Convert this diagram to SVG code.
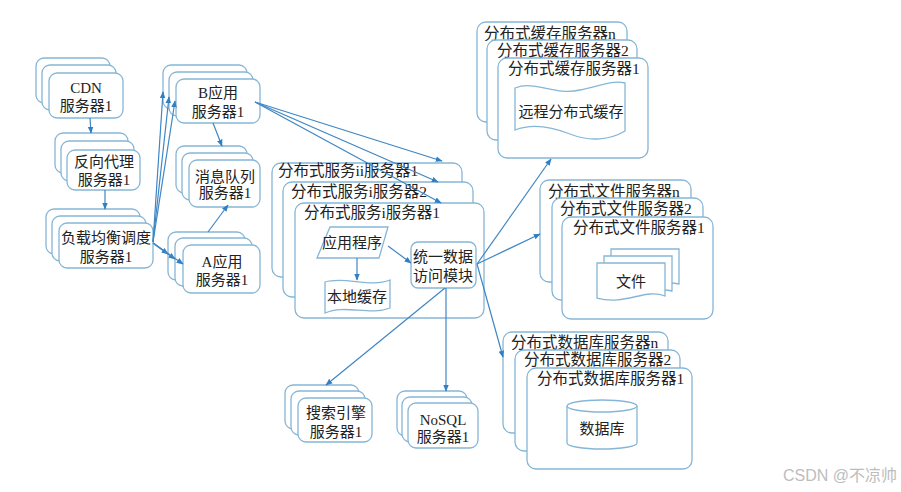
<svg xmlns="http://www.w3.org/2000/svg" width="901" height="492" viewBox="0 0 901 492">
<style>
.b{fill:#fff;stroke:#86b6d6;stroke-width:1.3}
.t{font-family:"Liberation Serif","Noto Sans CJK SC",serif;font-size:15px;fill:#222}
.c{text-anchor:middle}
.l{font-family:"Liberation Serif","Noto Sans CJK SC",serif;font-size:15.5px;fill:#222}
.e{fill:none;stroke:#3f86c4;stroke-width:1.2;marker-end:url(#a)}
</style>
<defs>
<marker id="a" viewBox="0 0 10 10" refX="9" refY="5" markerWidth="7" markerHeight="7" orient="auto" markerUnits="userSpaceOnUse">
<path d="M0,1 L10,5 L0,9 Z" fill="#2f7fc4"/>
</marker>
</defs>
<rect width="901" height="492" fill="#fff"/>

<g id="cdn">
<rect class="b" x="36" y="58" width="74" height="45" rx="8"/>
<rect class="b" x="42" y="65" width="74" height="45" rx="8"/>
<rect class="b" x="49" y="73" width="74" height="45" rx="8"/>
<text class="t c" x="86" y="93">CDN</text>
<text class="t c" x="86" y="111">服务器1</text>
</g>

<g id="proxy">
<rect class="b" x="55" y="133" width="73" height="40" rx="8"/>
<rect class="b" x="61" y="141" width="73" height="40" rx="8"/>
<rect class="b" x="67" y="150" width="73" height="40" rx="8"/>
<text class="t c" x="104" y="167">反向代理</text>
<text class="t c" x="104" y="185">服务器1</text>
</g>

<g id="lb">
<rect class="b" x="46" y="209" width="94" height="45" rx="8"/>
<rect class="b" x="52" y="216" width="94" height="45" rx="8"/>
<rect class="b" x="59" y="223" width="94" height="45" rx="8"/>
<text class="t c" x="106" y="243">负载均衡调度</text>
<text class="t c" x="106" y="262">服务器1</text>
</g>

<g id="appB">
<rect class="b" x="163" y="65" width="84" height="44" rx="8"/>
<rect class="b" x="169" y="72" width="84" height="44" rx="8"/>
<rect class="b" x="176" y="79" width="84" height="44" rx="8"/>
<text class="t c" x="218" y="98">B应用</text>
<text class="t c" x="218" y="117">服务器1</text>
</g>

<g id="mq">
<rect class="b" x="176" y="146" width="71" height="47" rx="8"/>
<rect class="b" x="182" y="153" width="71" height="47" rx="8"/>
<rect class="b" x="189" y="160" width="71" height="47" rx="8"/>
<text class="t c" x="225" y="182">消息队列</text>
<text class="t c" x="225" y="198">服务器1</text>
</g>

<g id="appA">
<rect class="b" x="168" y="232" width="77" height="48" rx="8"/>
<rect class="b" x="175" y="238" width="77" height="48" rx="8"/>
<rect class="b" x="183" y="245" width="77" height="48" rx="8"/>
<text class="t c" x="222" y="267">A应用</text>
<text class="t c" x="222" y="285">服务器1</text>
</g>

<g id="dist">
<rect class="b" x="272" y="163" width="190" height="114" rx="9"/>
<text class="l" x="278" y="176">分布式服务ii服务器1</text>
<rect class="b" x="283" y="182" width="190" height="115" rx="9"/>
<text class="l" x="291" y="197">分布式服务i服务器2</text>
<rect class="b" x="295" y="203" width="189" height="115" rx="9"/>
<text class="l" x="304" y="218">分布式服务i服务器1</text>
<path class="b" d="M330,227 L388,227 L379,258 L317,258 Z"/>
<text class="t c" x="352" y="248">应用程序</text>
<path class="b" d="M325,282 C345,276 370,288 390,280 L390,308 C370,316 345,304 325,313 Z"/>
<text class="t c" x="357" y="302">本地缓存</text>
<rect class="b" x="411" y="242" width="65" height="46" rx="7"/>
<text class="t c" x="443" y="262">统一数据</text>
<text class="t c" x="443" y="281">访问模块</text>
</g>

<g id="cache">
<rect class="b" x="477" y="22" width="150" height="100" rx="9"/>
<text class="l" x="484" y="39">分布式缓存服务器n</text>
<rect class="b" x="487" y="40" width="150" height="100" rx="9"/>
<text class="l" x="497" y="56">分布式缓存服务器2</text>
<rect class="b" x="498" y="58" width="150" height="100" rx="9"/>
<text class="l" x="508" y="74">分布式缓存服务器1</text>
<path class="b" d="M515,88 C535,80 555,96 580,90 C600,86 612,80 625,83 L625,131 C610,140 590,142 570,134 C550,126 530,124 515,130 Z"/>
<text class="t c" x="571" y="117">远程分布式缓存</text>
</g>

<g id="file">
<rect class="b" x="540" y="180" width="151" height="102" rx="9"/>
<text class="l" x="548" y="197">分布式文件服务器n</text>
<rect class="b" x="552" y="198" width="151" height="102" rx="9"/>
<text class="l" x="560" y="214">分布式文件服务器2</text>
<rect class="b" x="562" y="217" width="151" height="102" rx="9"/>
<text class="l" x="573" y="233">分布式文件服务器1</text>
<path class="b" d="M611,249 L679,249 L679,284 C670,282 668,283 664,284 L611,284 Z"/>
<path class="b" d="M604,256 L672,256 L672,291 C664,289 661,290 657,291 L604,291 Z"/>
<path class="b" d="M597,263 L665,263 L665,296 C645,288 625,306 597,298 Z"/>
<text class="t c" x="631" y="287">文件</text>
</g>

<g id="db">
<rect class="b" x="503" y="332" width="165" height="101" rx="9"/>
<text class="l" x="511" y="348">分布式数据库服务器n</text>
<rect class="b" x="515" y="350" width="165" height="101" rx="9"/>
<text class="l" x="524" y="365">分布式数据库服务器2</text>
<rect class="b" x="527" y="368" width="165" height="101" rx="9"/>
<text class="l" x="537" y="384">分布式数据库服务器1</text>
<path class="b" d="M567,406 L567,443 A35,6 0 0 0 637,443 L637,406"/>
<ellipse class="b" cx="602" cy="406" rx="35" ry="6"/>
<text class="t c" x="602" y="434">数据库</text>
</g>

<g id="search">
<rect class="b" x="285" y="385" width="74" height="44" rx="8"/>
<rect class="b" x="291" y="391" width="74" height="44" rx="8"/>
<rect class="b" x="298" y="398" width="74" height="44" rx="8"/>
<text class="t c" x="336" y="418">搜索引擎</text>
<text class="t c" x="336" y="437">服务器1</text>
</g>

<g id="nosql">
<rect class="b" x="397" y="391" width="70" height="45" rx="8"/>
<rect class="b" x="402" y="397" width="70" height="45" rx="8"/>
<rect class="b" x="408" y="403" width="70" height="45" rx="8"/>
<text class="t c" x="443" y="425">NoSQL</text>
<text class="t c" x="443" y="442">服务器1</text>
</g>

<g id="connectors">
<path class="e" d="M90,118 L91,133"/>
<path class="e" d="M105,190 L105,209"/>
<path class="e" d="M153,242 L163,92"/>
<path class="e" d="M153,242 L169,97"/>
<path class="e" d="M153,242 L175,101"/>
<path class="e" d="M153,243 L168,254"/>
<path class="e" d="M153,243 L175,259"/>
<path class="e" d="M153,243 L183,264"/>
<path class="e" d="M213,123 L222,146"/>
<path class="e" d="M208,232 L228,205"/>
<path class="e" d="M255,102 L442,161"/>
<path class="e" d="M255,102 L438,182"/>
<path class="e" d="M255,102 L441,203"/>
<path class="e" d="M388,246 L411,263"/>
<path class="e" d="M357,258 L357,280"/>
<path class="e" d="M477,264 L551,159"/>
<path class="e" d="M477,264 L540,234"/>
<path class="e" d="M477,264 L503,357"/>
<path class="e" d="M445,288 L326,385"/>
<path class="e" d="M446,288 L446,391"/>
</g>

<text x="897" y="481" text-anchor="end" style="font-family:'Liberation Sans','Noto Sans CJK SC',sans-serif;font-size:16px;fill:#bdbdbd">CSDN @不凉帅</text>
</svg>
